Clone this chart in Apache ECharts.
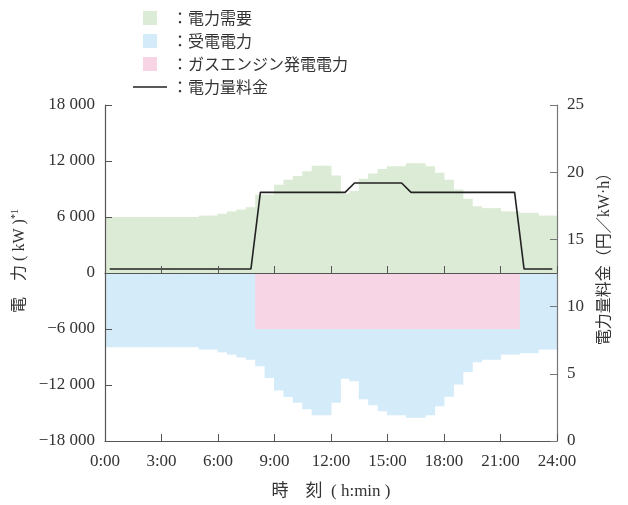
<!DOCTYPE html>
<html>
<head>
<meta charset="utf-8">
<script src="https://cdn.jsdelivr.net/npm/echarts@6/dist/echarts.min.js"></script>
<style>
  html, body { margin: 0; padding: 0; background: #fff; }
  #chart { width: 628px; height: 505px; }
</style>
</head>
<body>
<div id="chart"></div>
<script>
// 電力需要・受電電力・ガスエンジン発電電力・電力量料金（30分値）
var times = [
  '0:00', '0:30', '1:00', '1:30', '2:00', '2:30', '3:00', '3:30',
  '4:00', '4:30', '5:00', '5:30', '6:00', '6:30', '7:00', '7:30',
  '8:00', '8:30', '9:00', '9:30', '10:00', '10:30', '11:00', '11:30',
  '12:00', '12:30', '13:00', '13:30', '14:00', '14:30', '15:00', '15:30',
  '16:00', '16:30', '17:00', '17:30', '18:00', '18:30', '19:00', '19:30',
  '20:00', '20:30', '21:00', '21:30', '22:00', '22:30', '23:00', '23:30'
];
// 電力需要 (kW)
var demand = [
  6000, 6000, 6000, 6000, 6000, 6000, 6000, 6000,
  6000, 6000, 6150, 6150, 6350, 6600, 6800, 7050,
  8400, 8400, 9450, 10000, 10400, 10900, 11500, 11500,
  10450, 8500, 8800, 10100, 10650, 11150, 11450, 11450,
  11750, 11750, 11450, 10750, 10000, 8950, 7950, 7150,
  6950, 6950, 6600, 6600, 6450, 6450, 6150, 6150
];
// 受電電力 (kW, 負側に表示)
var received = [
  -7950, -7950, -7950, -7950, -7950, -7950, -7950, -7950,
  -7950, -7950, -8200, -8200, -8500, -8750, -9050, -9300,
  -9980, -11250, -12600, -13280, -13890, -14600, -15240, -15240,
  -13890, -11330, -11600, -13530, -14170, -14800, -15240, -15240,
  -15520, -15520, -15240, -14280, -13250, -11940, -10620, -9550,
  -9300, -9300, -8740, -8740, -8590, -8590, -8200, -8200
];
// ガスエンジン発電電力 (kW)
var gasEngine = [
  null, null, null, null, null, null, null, null,
  null, null, null, null, null, null, null, null,
  -6000, -6000, -6000, -6000, -6000, -6000, -6000, -6000,
  -6000, -6000, -6000, -6000, -6000, -6000, -6000, -6000,
  -6000, -6000, -6000, -6000, -6000, -6000, -6000, -6000,
  -6000, -6000, -6000, -6000, null, null, null, null
];
// 電力量料金 (円/kWh)
var price = [
  12.8, 12.8, 12.8, 12.8, 12.8, 12.8, 12.8, 12.8,
  12.8, 12.8, 12.8, 12.8, 12.8, 12.8, 12.8, 12.8,
  18.5, 18.5, 18.5, 18.5, 18.5, 18.5, 18.5, 18.5,
  18.5, 18.5, 19.2, 19.2, 19.2, 19.2, 19.2, 19.2,
  18.5, 18.5, 18.5, 18.5, 18.5, 18.5, 18.5, 18.5,
  18.5, 18.5, 18.5, 18.5, 12.8, 12.8, 12.8, 12.8
];

var serif = "'Liberation Serif', 'Noto Sans CJK JP', serif";
var cjk = "'Noto Sans CJK JP', sans-serif";
var textColor = '#333';
var axisColor = '#555';
var squareIcon = 'path://M0,0H10V10H0Z';
var lineIcon = 'path://M0,0H20V1H0Z';
// 棒の隙間を消すため帯幅より少し広く
var barW = 10.4;

function kwLabel(v) {
  var s = String(Math.abs(v)).replace(/\B(?=(\d{3})+(?!\d))/g, ' ');
  return (v < 0 ? '\u2212' : '') + s;
}

function barSeries(name, color, data) {
  return {
    name: name,
    type: 'bar',
    xAxisIndex: 0, yAxisIndex: 0,
    barGap: '-100%',
    barWidth: barW,
    itemStyle: { color: color },
    data: data
  };
}

var chart = echarts.init(document.getElementById('chart'));

var option = {
  animation: false,
  legend: {
    orient: 'vertical',
    left: 133,
    top: 10,
    padding: 0,
    itemWidth: 34,
    itemHeight: 14,
    itemGap: 7,
    selectedMode: false,
    formatter: '：{name}',
    textStyle: { fontFamily: cjk, fontSize: 16, color: textColor },
    data: [
      { name: '電力需要', icon: squareIcon },
      { name: '受電電力', icon: squareIcon },
      { name: 'ガスエンジン発電電力', icon: squareIcon },
      { name: '電力量料金', icon: lineIcon }
    ]
  },
  grid: { left: 105, right: 71, top: 105, bottom: 63 },
  xAxis: [
    {
      type: 'category',
      data: times,
      show: false,
      boundaryGap: true,
      axisLine: { onZero: false }
    },
    {
      type: 'value',
      min: 0, max: 24, interval: 3,
      position: 'bottom',
      z: 10,
      axisLine: { onZero: false, lineStyle: { color: axisColor, width: 1.2 } },
      axisTick: { inside: true, length: 7, lineStyle: { color: axisColor } },
      axisLabel: {
        margin: 12, fontFamily: serif, fontSize: 17, color: textColor,
        formatter: function (v) { return v + ':00'; }
      },
      splitLine: { show: false },
      name: '時　刻  ( h:min )',
      nameLocation: 'middle',
      nameGap: 42,
      nameTextStyle: { fontFamily: serif, fontSize: 17, color: textColor }
    },
    {
      type: 'value',
      min: 0, max: 24, interval: 3,
      position: 'bottom',
      z: 10,
      axisLine: { onZero: true, onZeroAxisIndex: 0, lineStyle: { color: axisColor, width: 1.2 } },
      axisTick: { inside: true, length: 7, lineStyle: { color: axisColor } },
      axisLabel: { show: false },
      splitLine: { show: false }
    }
  ],
  yAxis: [
    {
      type: 'value',
      min: -18000, max: 18000, interval: 6000,
      position: 'left',
      z: 10,
      axisLine: { show: true, onZero: false, lineStyle: { color: axisColor, width: 1.2 } },
      axisTick: { show: true, inside: true, length: 7, lineStyle: { color: axisColor } },
      axisLabel: { margin: 10, fontFamily: serif, fontSize: 17, color: textColor, formatter: kwLabel },
      splitLine: { show: false },
      name: '電　力 ( kW )' + '{sup|*1}',
      nameLocation: 'middle',
      nameGap: 63,
      nameTextStyle: {
        fontFamily: serif, fontSize: 16, color: textColor,
        padding: [0, 0, 0, 24],
        rich: { sup: { fontFamily: serif, fontSize: 10, color: textColor, verticalAlign: 'top', padding: [0, 0, 8, 0] } }
      }
    },
    {
      type: 'value',
      min: 0, max: 25, interval: 5,
      position: 'right',
      z: 10,
      axisLine: { show: true, onZero: false, lineStyle: { color: '#777', width: 1.2 } },
      axisTick: { show: true, inside: true, length: 7, lineStyle: { color: '#777' } },
      axisLabel: { margin: 10, fontFamily: serif, fontSize: 17, color: textColor },
      splitLine: { show: false },
      name: '電力量料金（円／kW·h）',
      nameLocation: 'middle',
      nameGap: 40,
      nameTextStyle: { fontFamily: serif, fontSize: 16, color: textColor, padding: [0, 0, 0, 36] }
    }
  ],
  series: [
    barSeries('電力需要', '#dcebd5', demand),
    barSeries('受電電力', '#d4ebf9', received),
    barSeries('ガスエンジン発電電力', '#f8d5e5', gasEngine),
    {
      name: '電力量料金',
      type: 'line',
      xAxisIndex: 0, yAxisIndex: 1,
      symbol: 'none',
      z: 5,
      itemStyle: { color: '#222' },
      lineStyle: { color: '#222', width: 1.6 },
      data: price
    }
  ]
};

chart.setOption(option);
</script>
</body>
</html>
